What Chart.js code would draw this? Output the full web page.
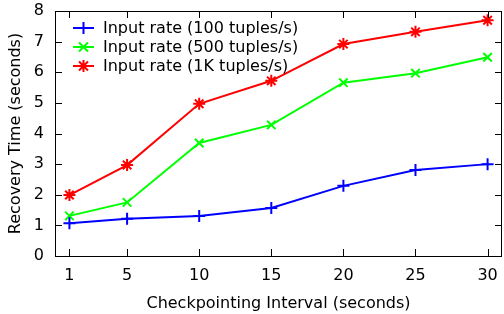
<!DOCTYPE html>
<html>
<head>
<meta charset="utf-8">
<script src="https://cdn.jsdelivr.net/npm/chart.js@4/dist/chart.umd.min.js"></script>
<style>
  html, body { margin: 0; padding: 0; background: #fff; }
  canvas { display: block; }
</style>
</head>
<body>
<canvas id="chart" width="504" height="314"></canvas>
<script>
// checkpointing intervals (seconds)
var categories = [1, 5, 10, 15, 20, 25, 30];
// recovery time (seconds) per input rate
var rate100 = [1.07, 1.22, 1.31, 1.57, 2.29, 2.81, 3.0];
var rate500 = [1.31, 1.75, 3.69, 4.28, 5.66, 5.97, 6.49];
var rate1k = [1.99, 2.97, 4.97, 5.72, 6.92, 7.32, 7.7];
var seriesNames = ['Input rate (100 tuples/s)', 'Input rate (500 tuples/s)', 'Input rate (1K tuples/s)'];
var yTicks = [0, 1, 2, 3, 4, 5, 6, 7, 8];

var FONT = 'DejaVu Sans';
var FSIZE = 16;
var colors = ['#0000ff', '#00ff00', '#ff0000'];
var markers = ['cross', 'crossRot', 'star'];

function toPoints(values) {
  return categories.map(function(c, i) { return { x: c, y: values[i] }; });
}

function markerPath(ctx, style, x, y, r) {
  ctx.beginPath();
  if (style === 'cross' || style === 'star') {
    ctx.moveTo(x - r, y); ctx.lineTo(x + r, y);
    ctx.moveTo(x, y - r); ctx.lineTo(x, y + r);
  }
  if (style === 'crossRot' || style === 'star') {
    var d = r * 0.75;
    ctx.moveTo(x - d, y - d); ctx.lineTo(x + d, y + d);
    ctx.moveTo(x - d, y + d); ctx.lineTo(x + d, y - d);
  }
  ctx.stroke();
}

// gnuplot style box with inward ticks on all four sides
var framePlugin = {
  id: 'frame',
  afterDraw: function(chart) {
    var ctx = chart.ctx;
    var a = chart.chartArea;
    var len = 7;
    ctx.save();
    ctx.strokeStyle = '#000';
    ctx.lineWidth = 1;
    chart.scales.x.ticks.forEach(function(t) {
      var px = Math.round(chart.scales.x.getPixelForValue(t.value)) + 0.5;
      ctx.beginPath();
      ctx.moveTo(px, a.bottom); ctx.lineTo(px, a.bottom - len);
      ctx.moveTo(px, a.top); ctx.lineTo(px, a.top + len);
      ctx.stroke();
    });
    chart.scales.y.ticks.forEach(function(t) {
      var py = Math.round(chart.scales.y.getPixelForValue(t.value)) + 0.5;
      ctx.beginPath();
      ctx.moveTo(a.left, py); ctx.lineTo(a.left + len, py);
      ctx.moveTo(a.right, py); ctx.lineTo(a.right - len, py);
      ctx.stroke();
    });
    ctx.strokeRect(Math.round(a.left) + 0.5, Math.round(a.top) + 0.5,
      Math.round(a.right - a.left) - 1, Math.round(a.bottom - a.top));
    ctx.restore();
  }
};

// legend drawn inside the plot, top left, line sample + marker
var keyPlugin = {
  id: 'key',
  afterDatasetsDraw: function(chart) {
    var ctx = chart.ctx;
    var a = chart.chartArea;
    ctx.save();
    ctx.font = FSIZE + 'px "' + FONT + '"';
    ctx.textBaseline = 'middle';
    ctx.fillStyle = '#000';
    chart.data.datasets.forEach(function(ds, i) {
      var y = a.top + 17 + i * 19;
      var x0 = a.left + 18, x1 = a.left + 39;
      ctx.strokeStyle = ds.borderColor;
      ctx.lineWidth = 2;
      ctx.beginPath(); ctx.moveTo(x0, y); ctx.lineTo(x1, y); ctx.stroke();
      markerPath(ctx, ds.pointStyle, (x0 + x1) / 2, y, 6);
      ctx.fillText(ds.label, a.left + 48, y + 1);
    });
    ctx.restore();
  }
};

var datasets = [rate100, rate500, rate1k].map(function(vals, i) {
  return {
    label: seriesNames[i],
    data: toPoints(vals),
    borderColor: colors[i],
    backgroundColor: colors[i],
    borderWidth: 2,
    pointStyle: markers[i],
    pointRadius: 6,
    pointBorderWidth: 2,
    pointHoverRadius: 6,
    tension: 0
  };
});

new Chart(document.getElementById('chart'), {
  type: 'line',
  data: { datasets: datasets },
  plugins: [framePlugin, keyPlugin],
  options: {
    responsive: false,
    animation: false,
    events: [],
    layout: { autoPadding: false, padding: { left: 0, top: 11, right: 2, bottom: 0 } },
    plugins: { legend: { display: false }, tooltip: { enabled: false } },
    scales: {
      x: {
        type: 'linear',
        min: 0,
        max: 31,
        afterBuildTicks: function(scale) {
          scale.ticks = categories.map(function(v) { return { value: v }; });
        },
        afterFit: function(scale) {
          scale.height = 58;
          scale.paddingLeft = 0;
          scale.paddingRight = 0;
        },
        grid: { display: false, drawTicks: false },
        border: { display: false },
        ticks: { color: '#000', font: { family: FONT, size: FSIZE }, padding: 10, maxRotation: 0, autoSkip: false },
        title: { display: true, text: 'Checkpointing Interval (seconds)', color: '#000', font: { family: FONT, size: FSIZE }, padding: { top: 4, bottom: 1 } }
      },
      y: {
        min: 0,
        max: 8,
        afterBuildTicks: function(scale) {
          scale.ticks = yTicks.map(function(v) { return { value: v }; });
        },
        afterFit: function(scale) {
          scale.width = 55;
          scale.paddingTop = 0;
          scale.paddingBottom = 0;
        },
        grid: { display: false, drawTicks: false },
        border: { display: false },
        ticks: { color: '#000', font: { family: FONT, size: FSIZE }, padding: 11 },
        title: { display: true, text: 'Recovery Time (seconds)', color: '#000', font: { family: FONT, size: FSIZE }, padding: { top: 6, bottom: 4 } }
      }
    }
  }
});
</script>
</body>
</html>
